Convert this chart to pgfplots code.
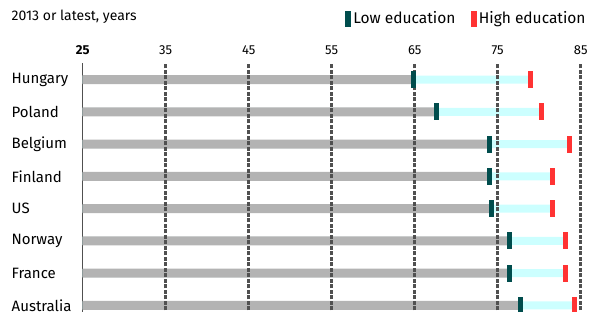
\documentclass[border=0pt]{standalone}
\usepackage{fontspec}
\setmainfont{Fira Sans}
\usepackage{pgfplots}
\usepackage{pgfplotstable}
\pgfplotsset{compat=1.18}
\definecolor{barGrey}{HTML}{B3B3B3}
\definecolor{gapCyan}{HTML}{CCFFFF}
\definecolor{lowTeal}{HTML}{004D4D}
\definecolor{highRed}{HTML}{FF3333}
\definecolor{gridGrey}{HTML}{505050}
\pgfdeclareplotmark{edtick}{\pgfpathrectangle{\pgfpoint{-2.5pt}{-8.5pt}}{\pgfpoint{5pt}{17pt}}\pgfusepathqfill}
\pgfplotstableread{
idx low high
7 64.9 78.9
6 67.6 80.3
5 74.0 83.7
4 74.0 81.6
3 74.2 81.6
2 76.4 83.2
1 76.4 83.2
0 77.7 84.25
}\datatable
\begin{document}
\begin{tikzpicture}
\path[use as bounding box] (0,0) rectangle (590pt,312pt);
\node[anchor=base west, inner sep=0pt, font=\fontsize{14}{16}\selectfont] at (11.5pt,291pt) {2013 or latest, years};
\begin{axis}[
  at={(82.7pt,248.6pt)}, anchor=north west,
  scale only axis, width=501.3pt, height=258.1pt,
  xmin=25, xmax=85.4, ymin=-0.5, ymax=7.5,
  axis x line*=top, axis y line*=left,
  x axis line style={draw=none},
  y axis line style={draw=gridGrey, line width=0.9pt, -},
  major tick length=0pt,
  xtick={35,45,55,65,75,85},
  extra x ticks={25}, extra x tick labels={\textbf{25}},
  /pgf/number format/assume math mode=true,
  xticklabel style={font=\fontsize{13}{15}\selectfont, text=black, yshift=5.5pt},
  ytick={0,...,7},
  yticklabels={Australia,France,Norway,US,Finland,Belgium,Poland,Hungary},
  yticklabel style={font=\fontsize{15}{17}\selectfont, anchor=west, inner sep=0pt, xshift=-71.2pt},
  legend columns=2,
  legend style={at={(1.0085,1.174)}, anchor=east, draw=none, fill=none,
    font=\fontsize{15.5}{17}\selectfont, inner sep=0pt,
    nodes={inner sep=2.5pt},
    /tikz/every even column/.append style={column sep=13pt}},
  legend image code/.code={\fill (0pt,-7.5pt) rectangle (5pt,7.5pt);},
]
\addplot[xbar, bar width=8pt, fill=gapCyan, draw=none, forget plot] table[x=high, y=idx]{\datatable};
\addplot[xbar, bar width=9pt, fill=barGrey, draw=none, forget plot] table[x=low, y=idx]{\datatable};
\pgfplotsinvokeforeach{35,45,55,65,75,85}{
  \draw[draw=gridGrey, line width=2.6pt, dash pattern=on 4pt off 1.5pt] (axis cs:#1,-0.5) -- (axis cs:#1,7.5);
}
\addplot[only marks, mark=edtick, color=lowTeal] table[x=low, y=idx]{\datatable};
\addlegendentry{Low education}
\addplot[only marks, mark=edtick, color=highRed] table[x=high, y=idx]{\datatable};
\addlegendentry{High education}
\end{axis}
\end{tikzpicture}
\end{document}
